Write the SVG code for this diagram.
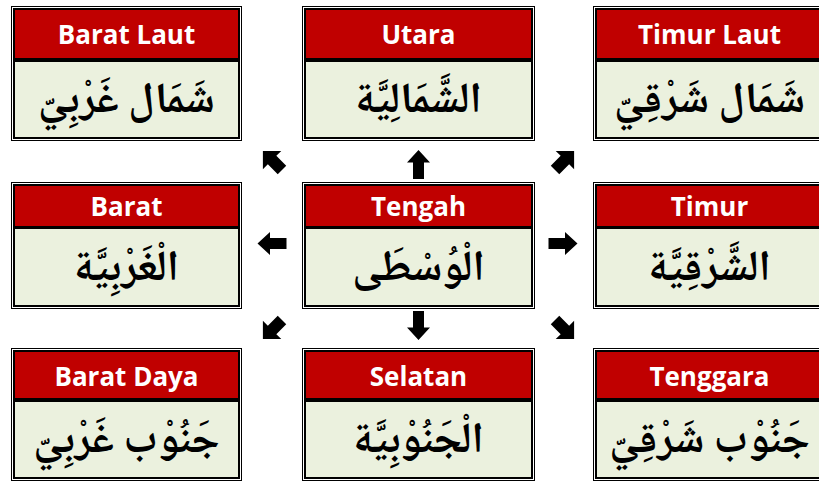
<svg xmlns="http://www.w3.org/2000/svg" xmlns:xlink="http://www.w3.org/1999/xlink" width="819" height="484" viewBox="0 0 819 484">
<style>
.frame{fill:#000}
.gap{fill:none;stroke:#fff;stroke-width:1}
.hdr{fill:#C00000}
.body{fill:#EBF1DE}
.lbl{font-family:"Open Sans","Liberation Sans",sans-serif;font-weight:bold;font-size:26px;fill:#fff;text-anchor:middle}
.ar{font-family:"Noto Naskh Arabic","Amiri","Scheherazade New","DejaVu Sans",sans-serif;font-weight:bold;font-size:43px;fill:#000;text-anchor:middle}
.arrow{fill:#000}
</style>
<defs>
<path id="arr" d="M0,-14.5 L11.5,-2 L5.5,-2 L5.5,14.5 L-5.5,14.5 L-5.5,-2 L-11.5,-2 Z"/>
<path id="darr" d="M0,-15 L13,-2 L6,-2 L6,12 L-6,12 L-6,-2 L-13,-2 Z"/>
</defs>
<rect width="819" height="484" fill="#fff"/>

<g id="barat-laut">
<rect class="frame" x="11" y="6" width="231" height="135"/>
<rect class="gap" x="12.5" y="7.5" width="228" height="132"/>
<rect class="hdr" x="15" y="10" width="223" height="48"/>
<rect class="body" x="15" y="62" width="223" height="75"/>
<text class="lbl" x="126.5" y="44">Barat Laut</text>
<text class="ar" x="126.5" y="112" direction="rtl">شَمَال غَرْبِيّ</text>
</g>

<g id="utara">
<rect class="frame" x="302" y="6" width="233" height="135"/>
<rect class="gap" x="303.5" y="7.5" width="230" height="132"/>
<rect class="hdr" x="306" y="10" width="225" height="48"/>
<rect class="body" x="306" y="62" width="225" height="75"/>
<text class="lbl" x="418.5" y="44">Utara</text>
<text class="ar" x="418.5" y="112" direction="rtl">الشَّمَالِيَّة</text>
</g>

<g id="timur-laut">
<rect class="frame" x="593" y="6" width="233" height="135"/>
<rect class="gap" x="594.5" y="7.5" width="230" height="132"/>
<rect class="hdr" x="597" y="10" width="225" height="48"/>
<rect class="body" x="597" y="62" width="225" height="75"/>
<text class="lbl" x="709.5" y="44">Timur Laut</text>
<text class="ar" x="709.5" y="112" direction="rtl">شَمَال شَرْقِيّ</text>
</g>

<g id="barat">
<rect class="frame" x="11" y="182" width="231" height="127"/>
<rect class="gap" x="12.5" y="183.5" width="228" height="124"/>
<rect class="hdr" x="15" y="186" width="223" height="40"/>
<rect class="body" x="15" y="229" width="223" height="76"/>
<text class="lbl" x="126.5" y="216">Barat</text>
<text class="ar" x="126.5" y="280" direction="rtl">الْغَرْبِيَّة</text>
</g>

<g id="tengah">
<rect class="frame" x="302" y="182" width="233" height="127"/>
<rect class="gap" x="303.5" y="183.5" width="230" height="124"/>
<rect class="hdr" x="306" y="186" width="225" height="40"/>
<rect class="body" x="306" y="229" width="225" height="76"/>
<text class="lbl" x="418.5" y="216">Tengah</text>
<text class="ar" x="418.5" y="280" direction="rtl">الْوُسْطَى</text>
</g>

<g id="timur">
<rect class="frame" x="593" y="182" width="233" height="127"/>
<rect class="gap" x="594.5" y="183.5" width="230" height="124"/>
<rect class="hdr" x="597" y="186" width="225" height="40"/>
<rect class="body" x="597" y="229" width="225" height="76"/>
<text class="lbl" x="709.5" y="216">Timur</text>
<text class="ar" x="709.5" y="280" direction="rtl">الشَّرْقِيَّة</text>
</g>

<g id="barat-daya">
<rect class="frame" x="11" y="348" width="231" height="133"/>
<rect class="gap" x="12.5" y="349.5" width="228" height="130"/>
<rect class="hdr" x="15" y="352" width="223" height="46"/>
<rect class="body" x="15" y="402" width="223" height="75"/>
<text class="lbl" x="126.5" y="386">Barat Daya</text>
<text class="ar" x="126.5" y="452" direction="rtl">جَنُوْب غَرْبِيّ</text>
</g>

<g id="selatan">
<rect class="frame" x="302" y="348" width="233" height="133"/>
<rect class="gap" x="303.5" y="349.5" width="230" height="130"/>
<rect class="hdr" x="306" y="352" width="225" height="46"/>
<rect class="body" x="306" y="402" width="225" height="75"/>
<text class="lbl" x="418.5" y="386">Selatan</text>
<text class="ar" x="418.5" y="452" direction="rtl">الْجَنُوْبِيَّة</text>
</g>

<g id="tenggara">
<rect class="frame" x="593" y="348" width="233" height="133"/>
<rect class="gap" x="594.5" y="349.5" width="230" height="130"/>
<rect class="hdr" x="597" y="352" width="225" height="46"/>
<rect class="body" x="597" y="402" width="225" height="75"/>
<text class="lbl" x="709.5" y="386">Tenggara</text>
<text class="ar" x="709.5" y="452" direction="rtl">جَنُوْب شَرْقِيّ</text>
</g>

<g id="connectors" class="arrow">
<use xlink:href="#arr" transform="translate(418.5,164.5)"/>
<use xlink:href="#arr" transform="translate(418.5,325.5) rotate(180)"/>
<use xlink:href="#arr" transform="translate(272,243.5) rotate(-90)"/>
<use xlink:href="#arr" transform="translate(563,243.5) rotate(90)"/>
<use xlink:href="#darr" transform="translate(273.5,161.5) rotate(-45)"/>
<use xlink:href="#darr" transform="translate(563.5,161.5) rotate(45)"/>
<use xlink:href="#darr" transform="translate(273.5,328.5) rotate(-135)"/>
<use xlink:href="#darr" transform="translate(563.5,328.5) rotate(135)"/>
</g>
</svg>
